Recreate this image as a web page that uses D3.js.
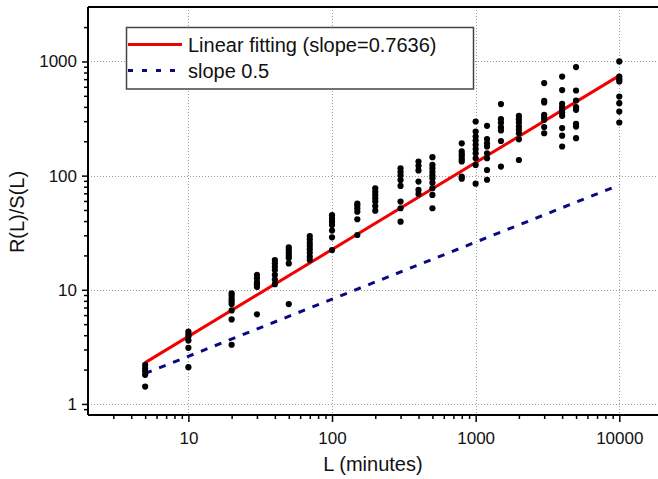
<!DOCTYPE html>
<html>
<head>
<meta charset="utf-8">
<script src="https://cdn.jsdelivr.net/npm/d3@7"></script>
<style>
  html, body { margin: 0; padding: 0; background: #fff; }
  svg { display: block; font-family: "Liberation Sans", Arial, sans-serif; }
</style>
</head>
<body>
<svg id="chart" width="658" height="479"></svg>
<script>
// ---- data ----
const lengths = [5, 10, 20, 30, 40, 50, 70, 100, 150, 200, 300, 400, 500, 800, 1000, 1200, 1500, 2000, 3000, 4000, 5000, 10000];
const ratios = [
  [2.2, 2.05, 1.93, 1.8, 1.42],
  [4.3, 4.1, 3.9, 3.6, 3.1, 2.1],
  [9.3, 8.8, 8.3, 7.9, 7.5, 6.6, 5.5, 3.3],
  [13.5, 12.6, 11.7, 11.2, 10.6, 6.1],
  [18.2, 17.1, 15.9, 14.9, 13.5, 12.3, 11.2],
  [23.5, 22.3, 21.1, 20, 19, 17, 7.5],
  [29.6, 27.7, 25.8, 24.2, 22.6, 21.1, 19.5, 18.2],
  [45, 42, 39.5, 37, 33, 28.8, 22.3],
  [57, 54.6, 51.8, 48.3, 41.5, 30.2],
  [77.5, 72.4, 67.7, 63.4, 59.2, 54.2, 49.3],
  [116, 108, 101, 91.6, 81.2, 59.2, 51.8, 39.5],
  [133, 122, 111, 88.6, 75, 69],
  [145, 124, 116, 108, 101, 95, 86.8, 77.5, 67.7, 51.8],
  [192, 163, 154, 147, 139, 133, 98, 94],
  [298, 243, 220, 203, 186, 171, 157, 142, 124, 85],
  [273, 209, 192, 180, 157, 142, 112, 92],
  [423, 312, 290, 265, 249, 201, 120],
  [334, 312, 292, 269, 252, 235, 208, 137],
  [647, 452, 437, 341, 325, 308, 266, 235],
  [738, 561, 426, 398, 377, 357, 334, 261, 224, 180],
  [893, 557, 455, 398, 377, 284, 269, 213],
  [1000, 738, 700, 668, 493, 431, 364, 292]
];
const fitX = [5, 10000];
const fitY = [2.3, 752];
const halfX = [5, 10000];
const halfY = [1.85, 82.7];
const xMajorTicks = [10, 100, 1000, 10000];
const yMajorTicks = [1, 10, 100, 1000];
const legendLabels = ["Linear fitting (slope=0.7636)", "slope 0.5"];
const xTitle = "L (minutes)";
const yTitle = "R(L)/S(L)";

// ---- layout ----
const plotLeft = 88, plotRight = 658, plotTop = 7, plotBottom = 415;
const svg = d3.select("#chart");

const x = d3.scaleLog().domain([2, 18600]).range([plotLeft, plotRight]);
const y = d3.scaleLog().domain([0.8, 3000]).range([plotBottom, plotTop]);

function minorTicks(lo, hi) {
  const out = [];
  for (let e = -1; e <= 5; e++) {
    for (let m = 2; m <= 9; m++) {
      const v = m * Math.pow(10, e);
      if (v > lo * 1.0001 && v < hi) out.push(v);
    }
  }
  return out;
}
const xMinor = minorTicks(2, 18600);
const yMinor = minorTicks(0.8, 3000);

// gridlines
const grid = svg.append("g").attr("stroke", "#9a9a9a").attr("stroke-width", 1)
  .attr("stroke-dasharray", "1,2").attr("fill", "none");
grid.selectAll("line.vx").data(xMajorTicks).join("line")
  .attr("x1", d => Math.round(x(d)) + 0.5).attr("x2", d => Math.round(x(d)) + 0.5)
  .attr("y1", plotTop).attr("y2", plotBottom);
grid.selectAll("line.hy").data(yMajorTicks).join("line")
  .attr("y1", d => Math.round(y(d)) + 0.5).attr("y2", d => Math.round(y(d)) + 0.5)
  .attr("x1", plotLeft).attr("x2", plotRight);

// lines
const lineGen = d3.line().x(d => x(d[0])).y(d => y(d[1]));
svg.append("path")
  .attr("d", lineGen(d3.zip(halfX, halfY)))
  .attr("fill", "none").attr("stroke", "#0a0a80").attr("stroke-width", 3)
  .attr("stroke-dasharray", "7,8");
svg.append("path")
  .attr("d", lineGen(d3.zip(fitX, fitY)))
  .attr("fill", "none").attr("stroke", "#f00000").attr("stroke-width", 3);

// points
const pts = [];
lengths.forEach((L, i) => ratios[i].forEach(r => pts.push([L, r])));
svg.append("g").selectAll("circle").data(pts).join("circle")
  .attr("cx", d => x(d[0])).attr("cy", d => y(d[1])).attr("r", 3.1).attr("fill", "#000");

// axes
const xAxis = d3.axisBottom(x).tickValues(xMajorTicks).tickFormat(d3.format("d")).tickSize(7).tickPadding(10);
const xAxisMinor = d3.axisBottom(x).tickValues(xMinor).tickFormat("").tickSize(4);
const yAxis = d3.axisLeft(y).tickValues(yMajorTicks).tickFormat(d3.format("d")).tickSize(6).tickPadding(5);
const yAxisMinor = d3.axisLeft(y).tickValues(yMinor).tickFormat("").tickSize(4);

function styleAxis(g) {
  g.select(".domain").remove();
  g.selectAll(".tick line").attr("stroke", "#000").attr("stroke-width", 1.5);
  g.selectAll(".tick text").attr("font-size", 17).attr("fill", "#111")
    .attr("font-family", "'Liberation Sans', Arial, sans-serif");
}
svg.append("g").attr("transform", `translate(0,${plotBottom})`).call(xAxisMinor).call(styleAxis);
svg.append("g").attr("transform", `translate(0,${plotBottom})`).call(xAxis).call(styleAxis);
svg.append("g").attr("transform", `translate(${plotLeft},0)`).call(yAxisMinor).call(styleAxis);
svg.append("g").attr("transform", `translate(${plotLeft},0)`).call(yAxis).call(styleAxis);

// frame lines
svg.append("line").attr("x1", plotLeft).attr("x2", plotRight).attr("y1", plotBottom).attr("y2", plotBottom)
  .attr("stroke", "#000").attr("stroke-width", 2);
svg.append("line").attr("x1", plotLeft).attr("x2", plotLeft).attr("y1", plotTop).attr("y2", plotBottom)
  .attr("stroke", "#000").attr("stroke-width", 2);
svg.append("line").attr("x1", plotLeft).attr("x2", plotRight).attr("y1", plotTop).attr("y2", plotTop)
  .attr("stroke", "#000").attr("stroke-width", 2);

// titles
svg.append("text").attr("x", (plotLeft + plotRight) / 2).attr("y", 471).attr("text-anchor", "middle")
  .attr("font-size", 20).attr("fill", "#111").text(xTitle);
svg.append("text").attr("transform", "translate(24,212) rotate(-90)").attr("text-anchor", "middle")
  .attr("font-size", 20).attr("fill", "#111").text(yTitle);

// legend
const lg = svg.append("g");
lg.append("rect").attr("x", 126.5).attr("y", 27.5).attr("width", 347).attr("height", 61.5)
  .attr("fill", "#fff").attr("stroke", "#444").attr("stroke-width", 1.5);
lg.append("line").attr("x1", 128).attr("x2", 182).attr("y1", 44.5).attr("y2", 44.5)
  .attr("stroke", "#f00000").attr("stroke-width", 3);
lg.append("line").attr("x1", 128).attr("x2", 182).attr("y1", 70.5).attr("y2", 70.5)
  .attr("stroke", "#0a0a80").attr("stroke-width", 3).attr("stroke-dasharray", "5,9");
lg.append("text").attr("x", 188).attr("y", 51.5).attr("font-size", 20).attr("fill", "#111").text(legendLabels[0]);
lg.append("text").attr("x", 188).attr("y", 77.5).attr("font-size", 20).attr("fill", "#111").text(legendLabels[1]);
</script>
</body>
</html>
